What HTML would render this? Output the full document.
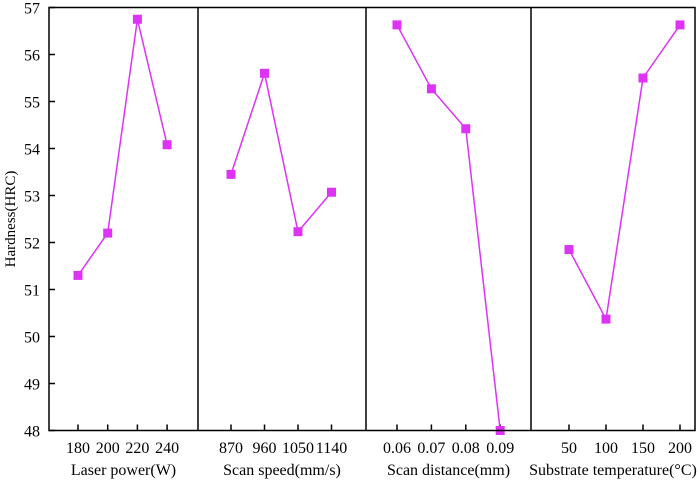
<!DOCTYPE html>
<html><head><meta charset="utf-8"><style>
html,body{margin:0;padding:0;background:#fff;}
svg{display:block;font-family:"Liberation Serif",serif;}
</style></head><body>
<svg id="chart" width="700" height="482" xmlns="http://www.w3.org/2000/svg"></svg>
<script>
const panelTitles = ["Laser power(W)", "Scan speed(mm/s)", "Scan distance(mm)", "Substrate temperature(\u00B0C)"];
const cats1 = ["180","200","220","240"];
const cats2 = ["870","960","1050","1140"];
const cats3 = ["0.06","0.07","0.08","0.09"];
const cats4 = ["50","100","150","200"];
const vals1 = [51.3, 52.2, 56.75, 54.08];
const vals2 = [53.45, 55.6, 52.23, 53.07];
const vals3 = [56.63, 55.27, 54.42, 48.0];
const vals4 = [51.85, 50.37, 55.5, 56.63];
const yTicks = [48,49,50,51,52,53,54,55,56,57];

const svgEl = document.getElementById('chart');
const NS = 'http://www.w3.org/2000/svg';
const plotTop = 7.5, plotBottom = 430.5, yMin = 48, yMax = 57;
const yScale = v => plotBottom - (v - yMin) / (yMax - yMin) * (plotBottom - plotTop);
const panelEdges = [49, 198, 366, 531, 695];
const firstOffset = [29, 33, 31, 38];
const step = [29.7, 33.5, 34.4, 37];
function mk(tag, attrs, parent) {
  const e = document.createElementNS(NS, tag);
  for (const k in attrs) e.setAttribute(k, attrs[k]);
  (parent || svgEl).appendChild(e);
  return e;
}
const cats = [cats1, cats2, cats3, cats4];
const vals = [vals1, vals2, vals3, vals4];

yTicks.forEach(t => {
  const tk = mk('line', {x1: 49, x2: 55, y1: yScale(t), y2: yScale(t), stroke: '#000', 'stroke-width': 1.5});
  
  
  const lb = mk('text', {x: 40, y: yScale(t) + 6, 'text-anchor': 'end', 'font-size': 16});
  
  
  lb.textContent = t;
});
const yt = mk('text', {x: 0, y: 0, transform: 'translate(15,219) rotate(-90)', 'text-anchor': 'middle', 'font-size': 15});


yt.textContent = 'Hardness(HRC)';

for (let p = 0; p < 4; p++) {
  const x0 = panelEdges[p];
  const xScale = i => x0 + firstOffset[p] + i * step[p];
  const g = mk('g', {});
  
  
  cats[p].forEach((c, i) => {
    const tk = mk('line', {x1: xScale(i), x2: xScale(i), y1: plotBottom, y2: plotBottom - 6, stroke: '#000', 'stroke-width': 1.5}, g);
    
    
    const lb = mk('text', {x: xScale(i), y: 453, 'text-anchor': 'middle', 'font-size': 16}, g);
    
    
    lb.textContent = c;
  });
  const tt = mk('text', {x: (panelEdges[p] + panelEdges[p + 1]) / 2, y: 475, 'text-anchor': 'middle', 'font-size': 16}, g);
  
  
  tt.textContent = panelTitles[p];
  const pts = vals[p].map((v, i) => xScale(i) + ',' + yScale(v)).join(' ');
  const pl = mk('polyline', {points: pts, fill: 'none', stroke: '#dd33f5', 'stroke-width': 1.5}, g);
  
  
  vals[p].forEach((v, i) => {
    const r = mk('rect', {x: xScale(i) - 4.5, y: yScale(v) - 4.5, width: 9, height: 9, fill: '#dd33f5'}, g);
    
    
  });
}
const fr = mk('rect', {x: 49, y: plotTop, width: 646, height: plotBottom - plotTop, fill: 'none', stroke: '#000', 'stroke-width': 1.5});


[198, 366, 531].forEach(px => {
  const d = mk('line', {x1: px, x2: px, y1: plotTop, y2: plotBottom, stroke: '#000', 'stroke-width': 1.5});
  
  
});
</script>
</body></html>
